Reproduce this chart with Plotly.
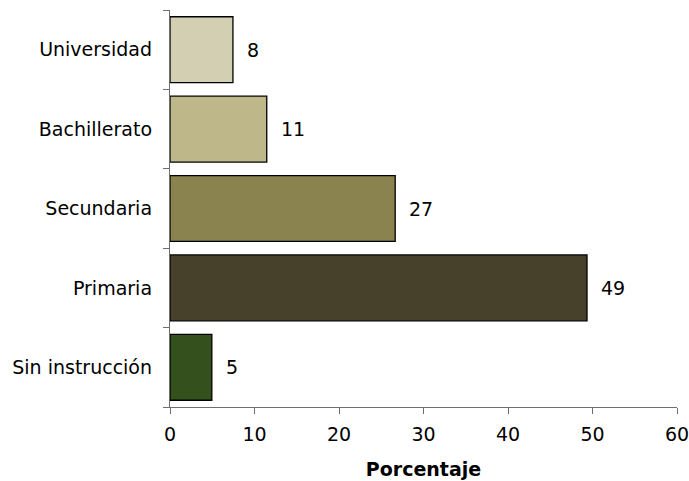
import plotly.graph_objects as go

categories = ["Universidad", "Bachillerato", "Secundaria", "Primaria", "Sin instrucción"]
values = [7.45, 11.45, 26.65, 49.35, 4.95]
labels = ["8", "11", "27", "49", "5"]
colors = ["#D3CFB2", "#BDB78A", "#8A8350", "#47402A", "#34501C"]
x_ticks = [0, 10, 20, 30, 40, 50, 60]

FONT = "DejaVu Sans"
FS = 19

fig = go.Figure()
fig.add_trace(go.Bar(
    y=categories, x=values, orientation="h",
    marker=dict(color=colors, line=dict(color="#000000", width=1.3)),
    hoverinfo="skip",
))
for c, v, t in zip(categories, values, labels):
    fig.add_annotation(x=v, y=c, text=t, showarrow=False, xanchor="left",
                       xshift=12, font=dict(family=FONT, size=FS, color="#000000"))

fig.update_layout(
    width=689, height=481,
    margin=dict(l=170, r=12, t=10, b=74),
    paper_bgcolor="white", plot_bgcolor="white",
    showlegend=False,
    bargap=0.17,
    font=dict(family=FONT, size=FS, color="#000000"),
    xaxis=dict(range=[0, 60], tickvals=x_ticks, showgrid=False, zeroline=False,
               automargin=False, ticklabeloverflow="allow",
               showline=True, linecolor="#6e6e6e", linewidth=1.3,
               ticks="outside", ticklen=6, tickcolor="#6e6e6e", tickwidth=1.3,
               ticklabelstandoff=4,
               title=dict(text="<b>Porcentaje</b>", font=dict(family=FONT, size=19), standoff=18),
               tickfont=dict(family=FONT, size=FS)),
    yaxis=dict(categoryorder="array", categoryarray=categories[::-1],
               automargin=False,
               showgrid=False, zeroline=False, showline=True, linecolor="#6e6e6e", linewidth=1.3,
               ticks="outside", ticklen=6, tickcolor="#6e6e6e", tickwidth=1.3,
               tickson="boundaries", ticklabelstandoff=13,
               tickfont=dict(family=FONT, size=FS)),
)
fig.write_html("out.html")
